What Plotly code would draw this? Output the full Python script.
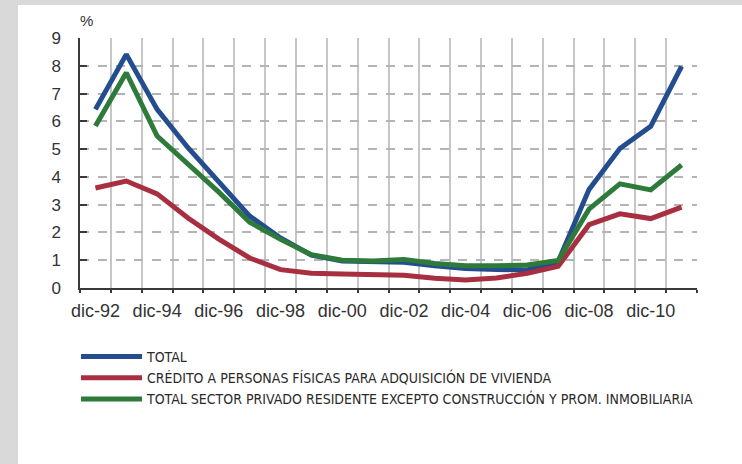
import plotly.graph_objects as go

# Annual observations, December of each year
categories = ["dic-92", "dic-93", "dic-94", "dic-95", "dic-96", "dic-97", "dic-98", "dic-99",
              "dic-00", "dic-01", "dic-02", "dic-03", "dic-04", "dic-05", "dic-06", "dic-07",
              "dic-08", "dic-09", "dic-10", "dic-11"]

total = [6.43, 8.41, 6.43, 5.05, 3.82, 2.59, 1.80, 1.18, 0.97, 0.95,
         0.93, 0.80, 0.70, 0.67, 0.65, 0.95, 3.55, 5.02, 5.82, 7.98]
vivienda = [3.60, 3.85, 3.39, 2.52, 1.76, 1.08, 0.66, 0.53, 0.50, 0.49,
            0.46, 0.35, 0.29, 0.36, 0.53, 0.78, 2.28, 2.67, 2.50, 2.91]
privado = [5.83, 7.75, 5.47, 4.47, 3.45, 2.37, 1.75, 1.20, 1.00, 0.97,
           1.03, 0.88, 0.80, 0.80, 0.83, 0.99, 2.84, 3.75, 3.53, 4.43]

series_names = ["TOTAL",
                "CRÉDITO A PERSONAS FÍSICAS PARA ADQUISICIÓN DE VIVIENDA",
                "TOTAL SECTOR PRIVADO RESIDENTE EXCEPTO CONSTRUCCIÓN Y PROM. INMOBILIARIA"]
series_colors = ["#234d8e", "#a82f40", "#2e7a3b"]

y_ticks = list(range(0, 10))

W, H = 742, 464
L, R, T, B = 80, 45, 38, 176

pos = list(range(len(categories)))
label_pos = pos[::2]
label_text = categories[::2]

fig = go.Figure()
for name, vals, col in zip(series_names, [total, vivienda, privado], series_colors):
    fig.add_trace(go.Scatter(x=pos, y=vals, mode="lines", name=name,
                             line=dict(color=col, width=5)))

pw = W - L - R
ph = H - T - B


def px_x(p):
    return (p - L) / pw


def px_y(p):
    return (H - B - p) / ph


fig.update_layout(
    width=W, height=H,
    margin=dict(l=L, r=R, t=T, b=B),
    paper_bgcolor="#d9d9d9",
    plot_bgcolor="rgba(0,0,0,0)",
    font=dict(family="Liberation Sans, Arial, sans-serif", color="#333333"),
    showlegend=True,
    legend=dict(
        x=px_x(76), y=px_y(341), xanchor="left", yanchor="top",
        bgcolor="rgba(0,0,0,0)", borderwidth=0,
        font=dict(family="Liberation Sans Narrow, DejaVu Sans Condensed, sans-serif",
                  size=14, color="#2a2a2a"),
        itemwidth=61, tracegroupgap=0,
    ),
    shapes=[dict(type="rect", xref="paper", yref="paper",
                 x0=px_x(18), x1=px_x(W + 5), y0=px_y(H + 5), y1=px_y(5),
                 fillcolor="white", line=dict(width=0), layer="below")],
    annotations=[dict(text="%", xref="paper", yref="paper",
                      x=px_x(78), y=px_y(21), xanchor="left", yanchor="middle",
                      showarrow=False, font=dict(size=15, color="#333333"))],
)

fig.update_xaxes(
    range=[-0.5, len(categories) - 0.5],
    tickmode="array", tickvals=label_pos, ticktext=label_text,
    ticks="", showgrid=False, zeroline=False,
    showline=True, linecolor="#3a3a3a", linewidth=1.5,
    tickfont=dict(size=18, color="#333333"),
    ticklabelstandoff=6,
    minor=dict(tick0=-0.5, dtick=1, showgrid=True, gridcolor="#c6c6c6", gridwidth=1.5,
               ticks="outside", ticklen=3, tickcolor="#3a3a3a", tickwidth=1.5),
)

fig.update_yaxes(
    range=[0, 9], tickmode="array", tickvals=y_ticks,
    showgrid=True, gridcolor="#b4b4b4", gridwidth=1.5, griddash="dash",
    zeroline=False,
    showline=True, linecolor="#3a3a3a", linewidth=1.5,
    ticks="inside", ticklen=7, tickcolor="#3a3a3a", tickwidth=1.5,
    tickfont=dict(size=17, color="#333333"),
    ticklabelstandoff=14,
)

fig.write_html("out.html")
